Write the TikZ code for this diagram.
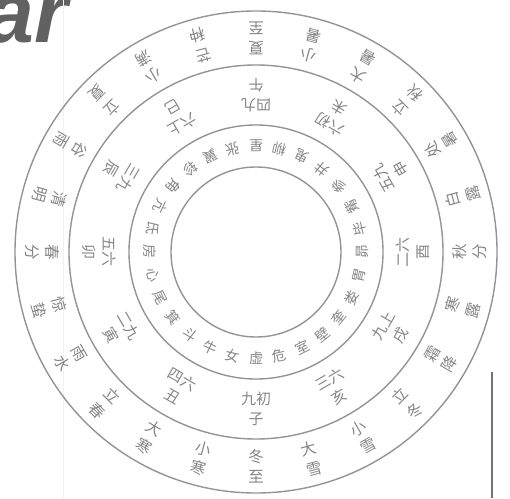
\documentclass[tikz,border=0pt]{standalone}
\usepackage{fontspec}
\setmainfont{Liberation Sans}
\newfontfamily\cjk{Noto Sans CJK SC}
\begin{document}
\begin{tikzpicture}[x=1pt,y=1pt,
  ring/.style={draw=black!42, line width=1.4pt},
  termlbl/.style={font=\cjk\fontsize{15.5}{20}\selectfont, text=black!48, align=center, inner sep=0pt},
  branchlbl/.style={font=\cjk\fontsize{15}{20}\selectfont, text=black!48, align=center, inner sep=0pt},
  mansionlbl/.style={font=\cjk\fontsize{14}{14}\selectfont, text=black!48, inner sep=0pt}]
\useasboundingbox (0,0) rectangle (510,498);
\clip (0,0) rectangle (510,498);
\coordinate (C) at (256,246);
% heading fragment
\node[anchor=base west, inner sep=0pt, text=black!62, font=\fontsize{86}{86}\selectfont\bfseries\itshape] (head) at (-14,455) {ar};
% faint page line and right rule
\coordinate (g1) at (63,498); \coordinate (g2) at (63,0);
\draw[black!6, line width=0.8pt] (g1) -- (g2);
\coordinate (r1) at (492,126); \coordinate (r2) at (492,0);
\draw[black!55, line width=1.3pt] (r1) -- (r2);
% circles
\draw[ring] (C) circle[radius=85];
\draw[ring] (C) circle[radius=127];
\draw[ring] (C) circle[radius=187];
\draw[ring] (C) circle[radius=241];
% solar terms
\foreach \a/\b [count=\i from 0] in {冬/至,小/寒,大/寒,立/春,雨/水,惊/蛰,春/分,清/明,谷/雨,立/夏,小/满,芒/种,夏/至,小/暑,大/暑,立/秋,处/暑,白/露,秋/分,寒/露,霜/降,立/冬,小/雪,大/雪}{
  \pgfmathsetmacro\ang{270-15*\i}
  \node[termlbl, rotate=\ang+90] (st\i) at ([shift={(\ang:214pt)}]C) {\a\\\b};
}
% branches
\foreach \l/\b [count=\j from 0] in {九初/子,四六/丑,二九/寅,五六/卯,三九/辰,六上/巳,四九/午,六初/未,五九/申,二六/酉,九上/戌,三六/亥}{
  \pgfmathsetmacro\ang{270-30*\j}
  \node[branchlbl, rotate=\ang+90] (br\j) at ([shift={(\ang:157pt)}]C) {\l\\\b};
}
% mansions
\foreach \m [count=\k from 0] in {虚,危,室,壁,奎,娄,胃,昴,毕,觜,参,井,鬼,柳,星,张,翼,轸,角,亢,氐,房,心,尾,箕,斗,牛,女}{
  \pgfmathsetmacro\ang{270+\k*360/28}
  \node[mansionlbl, rotate=\ang+90] (ms\k) at ([shift={(\ang:106pt)}]C) {\m};
}
\end{tikzpicture}
\end{document}
